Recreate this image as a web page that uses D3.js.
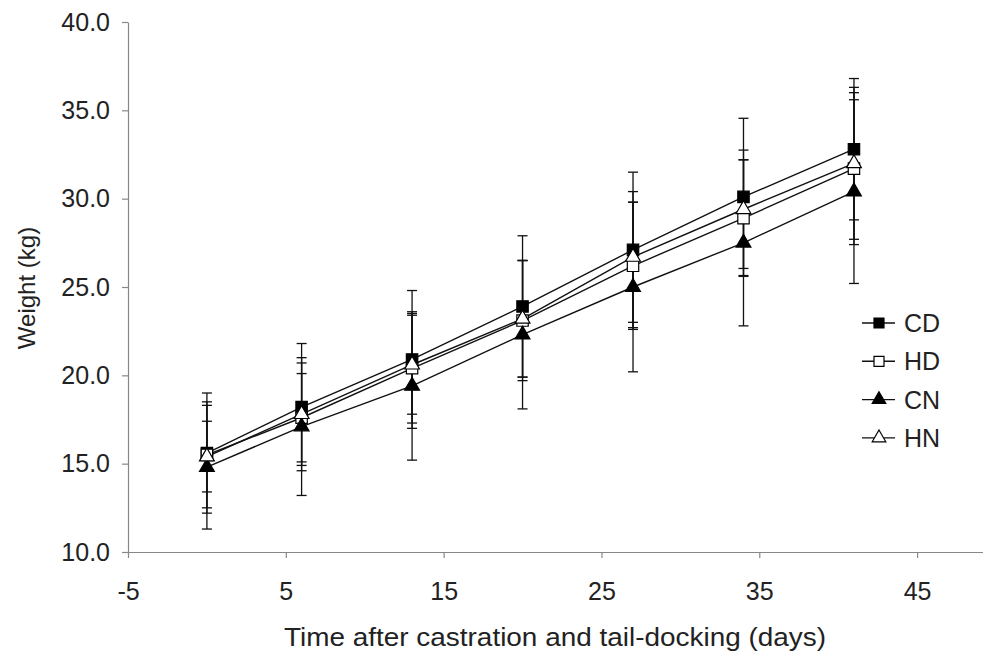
<!DOCTYPE html>
<html>
<head>
<meta charset="utf-8">
<script src="https://cdn.jsdelivr.net/npm/d3@7"></script>
<style>
  body { margin: 0; background: #fff; }
  svg { display: block; font-family: "Liberation Sans", Arial, sans-serif; }
</style>
</head>
<body>
<div id="chart"></div>
<script>
const days = [0, 6, 13, 20, 27, 34, 41];
const seriesNames = ["CD", "HD", "CN", "HN"];
const cdMean = [15.6, 18.2, 20.9, 23.9, 27.1, 30.1, 32.8];
const cdSd = [3.4, 3.6, 3.9, 4.0, 4.4, 4.45, 4.0];
const hdMean = [15.5, 17.6, 20.4, 23.1, 26.2, 28.9, 31.7];
const hdSd = [3.0, 2.5, 3.1, 3.4, 3.6, 3.3, 4.3];
const cnMean = [14.8, 17.1, 19.4, 22.3, 25.0, 27.5, 30.4];
const cnSd = [3.5, 3.9, 4.2, 4.2, 4.8, 4.7, 5.2];
const hnMean = [15.4, 17.8, 20.6, 23.2, 26.7, 29.4, 32.0];
const hnSd = [2.0, 2.9, 2.8, 3.3, 3.7, 3.35, 4.3];
const xTicks = [-5, 5, 15, 25, 35, 45];
const yTicks = [10, 15, 20, 25, 30, 35, 40];

const width = 983, height = 654;

const series = [
    { name: seriesNames[0], mean: cdMean, sd: cdSd, shape: d3.symbolSquare, filled: true },
    { name: seriesNames[1], mean: hdMean, sd: hdSd, shape: d3.symbolSquare, filled: false },
    { name: seriesNames[2], mean: cnMean, sd: cnSd, shape: d3.symbolTriangle, filled: true },
    { name: seriesNames[3], mean: hnMean, sd: hnSd, shape: d3.symbolTriangle, filled: false }
];

const svg = d3.select("#chart")
    .append("svg")
    .attr("width", width)
    .attr("height", height);

const x = d3.scaleLinear().domain([-5, 50]).range([128, 996]);
const y = d3.scaleLinear().domain([10, 40]).range([552, 22]);

// axes
const xAxis = svg.append("g")
    .attr("transform", `translate(0,${y(10)})`)
    .call(d3.axisBottom(x).tickValues(xTicks).tickFormat(d => String(d)).tickSize(6).tickSizeOuter(0).tickPadding(24));

const yAxis = svg.append("g")
    .attr("transform", `translate(${x(-5)},0)`)
    .call(d3.axisLeft(y).tickValues(yTicks).tickFormat(d3.format(".1f")).tickSize(6).tickSizeOuter(0).tickPadding(12));

[xAxis, yAxis].forEach(a => {
    a.select(".domain").attr("stroke", "#888").attr("stroke-width", 1.2);
    a.selectAll(".tick line").attr("stroke", "#888").attr("stroke-width", 1.2);
    a.selectAll(".tick text")
        .attr("fill", "#222")
        .style("font-size", "25px")
        .style("font-family", "'Liberation Sans', Arial, sans-serif");
});

svg.append("text")
    .attr("x", 555)
    .attr("y", 646)
    .attr("text-anchor", "middle")
    .attr("fill", "#222")
    .attr("textLength", 542)
    .attr("lengthAdjust", "spacingAndGlyphs")
    .style("font-size", "25px")
    .text("Time after castration and tail-docking (days)");

svg.append("text")
    .attr("transform", `translate(35,288) rotate(-90)`)
    .attr("text-anchor", "middle")
    .attr("fill", "#222")
    .style("font-size", "24px")
    .text("Weight (kg)");

// error bars
const capW = 5;
series.forEach(s => {
    const g = svg.append("g").attr("stroke", "#111").attr("stroke-width", 1.3);
    days.forEach((d, i) => {
        const lo = s.mean[i] - s.sd[i], hi = s.mean[i] + s.sd[i];
        g.append("line").attr("x1", x(d)).attr("x2", x(d)).attr("y1", y(lo)).attr("y2", y(hi));
        g.append("line").attr("x1", x(d) - capW).attr("x2", x(d) + capW).attr("y1", y(lo)).attr("y2", y(lo));
        g.append("line").attr("x1", x(d) - capW).attr("x2", x(d) + capW).attr("y1", y(hi)).attr("y2", y(hi));
    });
});

// lines
const line = d3.line().x((d, i) => x(days[i])).y(d => y(d));
series.forEach(s => {
    svg.append("path")
        .datum(s.mean)
        .attr("fill", "none")
        .attr("stroke", "#111")
        .attr("stroke-width", 1.4)
        .attr("d", line);
});

// markers
function symbolPath(s) {
    return d3.symbol().type(s.shape).size(s.shape === d3.symbolSquare ? 130 : 95)();
}
series.forEach(s => {
    svg.append("g").selectAll("path")
        .data(s.mean)
        .enter().append("path")
        .attr("transform", (d, i) => `translate(${x(days[i])},${y(d)})`)
        .attr("d", symbolPath(s))
        .attr("fill", s.filled ? "#000" : "#fff")
        .attr("stroke", "#000")
        .attr("stroke-width", 1.2);
});

// legend
const legend = svg.append("g").attr("transform", "translate(862,323)");
series.forEach((s, i) => {
    const row = legend.append("g").attr("transform", `translate(0,${i * 38.3})`);
    row.append("line").attr("x1", 0).attr("x2", 33).attr("y1", 0).attr("y2", 0)
        .attr("stroke", "#111").attr("stroke-width", 1.4);
    row.append("path")
        .attr("transform", "translate(17,0)")
        .attr("d", d3.symbol().type(s.shape).size(s.shape === d3.symbolSquare ? 100 : 80)())
        .attr("fill", s.filled ? "#000" : "#fff")
        .attr("stroke", "#000")
        .attr("stroke-width", 1.2);
    row.append("text")
        .attr("x", 42)
        .attr("y", 9)
        .attr("fill", "#222")
        .style("font-size", "25px")
        .text(s.name);
});
</script>
</body>
</html>
